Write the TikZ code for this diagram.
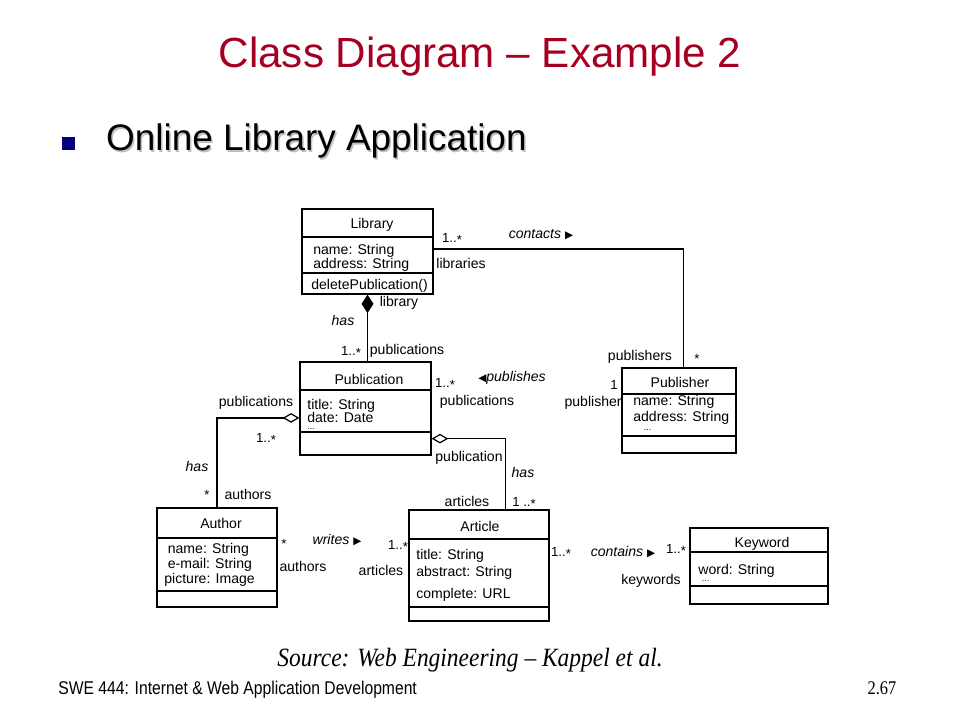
\documentclass[tikz,border=0pt]{standalone}
\usepackage{fontspec}
\usepackage{tikz}
\usetikzlibrary{arrows.meta,calc,fit}
\newfontfamily\arial{Liberation Sans}
\newfontfamily\serifrm{Liberation Serif}
\newfontfamily\symb{DejaVu Sans}
\definecolor{titlered}{RGB}{165,0,33}
\definecolor{bulletblue}{RGB}{0,0,128}
\newcommand{\classfont}{\arial\fontsize{8}{9}\selectfont}
\newcommand{\multfont}{\arial\fontsize{7.5}{8}\selectfont}
\newcommand{\rtri}{{\symb\upshape\fontsize{6}{6}\selectfont ▶}}
\newcommand{\ltri}{{\symb\upshape\fontsize{6}{6}\selectfont ◀}}
\newcommand{\many}{\raisebox{-1.2pt}{*}}
\newcommand{\dotsrow}{{\fontsize{5}{5}\selectfont ...}}

\tikzset{
	classbox/.style={draw, line width=0.7pt, inner sep=0pt},
	cname/.style={font=\classfont, inner sep=0pt},
	attr/.style={anchor=north west, align=left, font=\classfont, inner sep=0pt},
	oper/.style={anchor=base west, font=\classfont, inner sep=0pt},
	lbl/.style={font=\classfont, inner sep=0pt},
	role/.style={font=\classfont\itshape, inner sep=0pt},
	mult/.style={font=\multfont, inner sep=0pt},
	assoc/.style={line width=0.7pt},
	comp/.style={assoc, {Diamond[length=10.5pt,width=6.8pt,fill=black]}-},
	aggr/.style={assoc, {Diamond[length=9.5pt,width=5.5pt,open]}-}
}

\begin{document}
\begin{tikzpicture}[x=0.02cm,y=-0.02cm]
	\useasboundingbox (0,0) rectangle (960,720);
	% slide heading
	\node (title) [font=\arial\fontsize{24}{28}\selectfont, text=titlered] at (480,57) {Class Diagram – Example 2};
	\node (bullet) [fill=bulletblue, minimum size=7.4pt, inner sep=0pt] at (68.5,143.5) {};
	\node (subshadow) [anchor=west, font=\arial\fontsize{21}{24}\selectfont, text=black!25] at (101.5,142.5) {Online Library Application};
	\node (sub) [anchor=west, font=\arial\fontsize{21}{24}\selectfont] at (100,141) {Online Library Application};

	% classes
	\node (lib) [classbox, fit={(302,209) (433,294)}] {};
	\draw[line width=0.7pt] (302,237) -- (433,237) (302,273) -- (433,273);
	\node (libn) [cname] at (372,225) {Library};
	\node (liba) [attr, font=\arial\fontsize{8}{8}\selectfont] at (313,244) {name: String\\address: String};
	\node (libo) [oper] at (311,289) {deletePublication()};

	\node (pub) [classbox, fit={(300,362) (431,455)}] {};
	\draw[line width=0.7pt] (300,390) -- (431,390) (300,432) -- (431,432);
	\node (pubn) [cname] at (369,379) {Publication};
	\node (puba) [attr, font=\arial\fontsize{8}{7.5}\selectfont] at (307,399) {title: String\\date: Date\\[-3.5pt]\dotsrow};

	\node (pbr) [classbox, fit={(622,368) (736,453)}] {};
	\draw[line width=0.7pt] (622,394) -- (736,394) (622,436) -- (736,436);
	\node (pbrn) [cname] at (680,382) {Publisher};
	\node (pbra) [attr] at (633,395) {name: String\\address: String\\[-4pt]\hspace{6pt}\dotsrow};

	\node (aut) [classbox, fit={(157,508) (277,607)}] {};
	\draw[line width=0.7pt] (157,538) -- (277,538) (157,591) -- (277,591);
	\node (autn) [cname] at (221,523) {Author};
	\node (auta) [attr, font=\arial\fontsize{8}{8.6}\selectfont] at (164,543) {\hspace{2pt}name: String\\\hspace{2pt}e-mail: String\\picture: Image};

	\node (art) [classbox, fit={(409,510) (549,621)}] {};
	\draw[line width=0.7pt] (409,539) -- (549,539) (409,607) -- (549,607);
	\node (artn) [cname] at (480,526) {Article};
	\node (arta) [attr, font=\arial\fontsize{8}{9.6}\selectfont] at (416,549) {title: String\\abstract: String};
	\node (artc) [oper] at (416,598) {complete: URL};

	\node (kw) [classbox, fit={(690,528) (828,604)}] {};
	\draw[line width=0.7pt] (690,552) -- (828,552) (690,586) -- (828,586);
	\node (kwn) [cname] at (762,544) {Keyword};
	\node (kwa) [attr] at (698,564) {word: String\\[-5pt]\hspace{2pt}\dotsrow};

	% associations
	\draw[comp] (lib.south) -- (lib.south |- pub.north);
	\draw[assoc] ($(lib.north east)!0.47!(lib.south east)$) -| ($(pbr.north west)!0.54!(pbr.north east)$);
	\draw[assoc] ($(pub.north east)!0.3!(pub.south east)$) -- ($(pub.north east)!0.3!(pub.south east)$ -| pbr.west);
	\draw[aggr] ($(pub.north west)!0.6!(pub.south west)$) -| (aut.north);
	\draw[aggr] ($(pub.north east)!0.82!(pub.south east)$) -| ($(art.north west)!0.69!(art.north east)$);
	\draw[assoc] ($(aut.north east)!0.43!(aut.south east)$) -- ($(aut.north east)!0.43!(aut.south east)$ -| art.west);
	\draw[assoc] ($(art.north east)!0.51!(art.south east)$) -- ($(art.north east)!0.51!(art.south east)$ -| kw.west);

	% roles and multiplicities
	\node (m1) [mult] at (452,239) {1..\many};
	\node (r1) [role] at (541,235) {contacts \rtri};
	\node (l1) [lbl] at (461,263) {libraries};
	\node (l2) [lbl] at (399,303) {library};
	\node (r2) [role] at (343,320) {has};
	\node (m2) [mult] at (351,352) {1..\many};
	\node (l3) [lbl] at (407,351) {publications};
	\node (l4) [lbl] at (640,357) {publishers};
	\node (m3) [mult] at (697,359) {\many};
	\node (m4) [mult] at (445,384) {1..\many};
	\node (r3) [role] at (512,378) {\ltri publishes};
	\node (m5) [mult] at (614,385) {1};
	\node (l5) [lbl] at (477,402) {publications};
	\node (l6) [lbl, anchor=east] at (622,403) {publisher};
	\node (l7) [lbl] at (256,403) {publications};
	\node (m6) [mult] at (266,439) {1..\many};
	\node (r4) [role] at (197,466) {has};
	\node (m7) [mult] at (207,495) {\many};
	\node (l8) [lbl] at (248,494) {authors};
	\node (l9) [lbl] at (469,458) {publication};
	\node (r5) [role] at (523,472) {has};
	\node (l10) [lbl] at (467,501) {articles};
	\node (m8) [mult] at (524,503) {1 ..\many};
	\node (m9) [mult] at (284,544) {\many};
	\node (r6) [role] at (337,540) {writes \rtri};
	\node (m10) [mult] at (398,546) {1..\many};
	\node (l11) [lbl] at (303,566) {authors};
	\node (l12) [lbl] at (381,570) {articles};
	\node (m11) [mult] at (561,553) {1..\many};
	\node (r7) [role] at (623,552) {contains \rtri};
	\node (m12) [mult] at (676,550) {1..\many};
	\node (l13) [lbl] at (651,581) {keywords};

	% footer
	\node (src) [font=\serifrm\itshape\fontsize{15}{18}\selectfont] at (470,660) {\scalebox{0.89}[1]{Source: Web Engineering – Kappel et al.}};
	\node (foot) [anchor=west, font=\arial\fontsize{10.5}{12}\selectfont, inner sep=0pt] at (58,690) {\scalebox{0.85}[1]{SWE 444: Internet \& Web Application Development}};
	\node (page) [font=\serifrm\fontsize{11}{12}\selectfont] at (882,688) {\scalebox{0.85}[1]{2.67}};
\end{tikzpicture}
\end{document}
